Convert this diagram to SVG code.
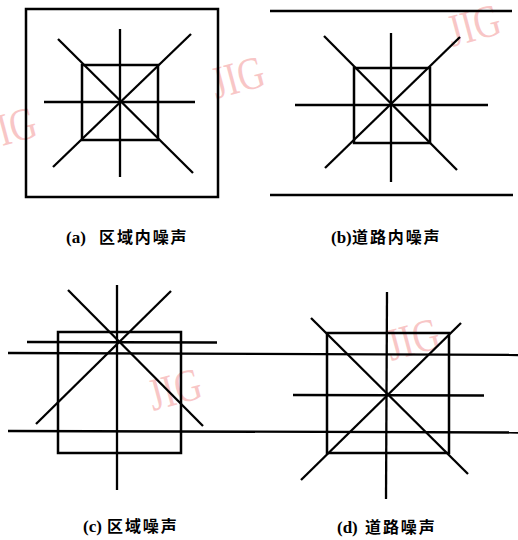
<svg xmlns="http://www.w3.org/2000/svg" width="518" height="540" viewBox="0 0 518 540">
<style>
.ln{stroke:#000;stroke-width:2.3;fill:none;stroke-linecap:butt}
.bx{stroke:#000;stroke-width:2.5;fill:none}
.wm{font-family:"Liberation Serif",serif;font-size:46px;fill:#f6b4b4;fill-opacity:0.75}
.lat{font-family:"Liberation Serif",serif;font-size:17px;font-weight:bold;fill:#000}
.cjk{font-family:"Noto Sans CJK SC",sans-serif;font-size:16px;font-weight:bold;fill:#000;letter-spacing:1.9px}
</style>
<rect width="518" height="540" fill="#fff"/>
<g id="watermarks">
<text class="wm" transform="translate(2,146) rotate(-15) scale(0.8,1)">IG</text>
<text class="wm" transform="translate(216,99) rotate(-15) scale(0.8,1)">JIG</text>
<text class="wm" transform="translate(452,47) rotate(-15) scale(0.8,1)">JIG</text>
<text class="wm" transform="translate(153,411) rotate(-15) scale(0.8,1)">JIG</text>
<text class="wm" transform="translate(391,361) rotate(-15) scale(0.8,1)">JIG</text>
</g>
<g id="panel-a">
<rect class="bx" x="26" y="9" width="192" height="188"/>
<rect class="bx" x="82" y="65" width="76" height="75"/>
<line class="ln" x1="120" y1="29" x2="120" y2="177"/>
<line class="ln" x1="44" y1="102" x2="195" y2="102"/>
<line class="ln" x1="58" y1="39" x2="193" y2="173"/>
<line class="ln" x1="191" y1="34" x2="53" y2="167"/>
</g>
<g id="panel-b">
<line class="ln" x1="270" y1="11" x2="512" y2="11"/>
<line class="ln" x1="270" y1="195" x2="513" y2="195"/>
<rect class="bx" x="354" y="68" width="76" height="75"/>
<line class="ln" x1="391" y1="33" x2="391" y2="182"/>
<line class="ln" x1="295" y1="105" x2="488" y2="105"/>
<line class="ln" x1="324" y1="36" x2="457" y2="170"/>
<line class="ln" x1="460" y1="37" x2="325" y2="168"/>
</g>
<g id="roads">
<line class="ln" x1="8" y1="353" x2="518" y2="355"/>
<line class="ln" x1="8" y1="431" x2="518" y2="432.5"/>
</g>
<g id="panel-c">
<rect class="bx" x="58" y="332" width="123" height="121"/>
<line class="ln" x1="117" y1="285" x2="117" y2="490"/>
<line class="ln" x1="27" y1="342" x2="217" y2="342.5"/>
<line class="ln" x1="68" y1="290" x2="203" y2="426"/>
<line class="ln" x1="171" y1="291" x2="36" y2="424"/>
</g>
<g id="panel-d">
<rect class="bx" x="327" y="333" width="122" height="120"/>
<line class="ln" x1="387" y1="292" x2="386" y2="499"/>
<line class="ln" x1="293" y1="395" x2="484" y2="395.5"/>
<line class="ln" x1="311" y1="318" x2="468" y2="474"/>
<line class="ln" x1="461" y1="323" x2="301" y2="480"/>
</g>
<g id="labels">
<text class="lat" x="66" y="243">(a)</text>
<text class="cjk" x="99" y="243">区域内噪声</text>
<text class="lat" x="331" y="243">(b)</text>
<text class="cjk" x="352" y="243">道路内噪声</text>
<text class="lat" x="83" y="532">(c)</text>
<text class="cjk" x="107" y="532">区域噪声</text>
<text class="lat" x="337" y="533">(d)</text>
<text class="cjk" x="365" y="533">道路噪声</text>
</g>
</svg>
